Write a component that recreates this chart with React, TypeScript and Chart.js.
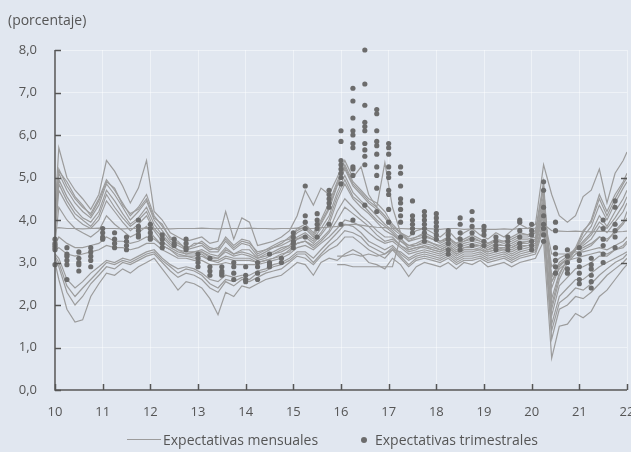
import React, { useEffect, useRef } from "react";
import { Chart, registerables } from "chart.js";

Chart.register(...registerables);

const FONT = "'Open Sans', 'Noto Sans', sans-serif";
const BG = "#e1e7f0";
const LINE_COLOR = "#9c9c9c";
const DOT_COLOR = "#6c6c6c";
const AXIS_COLOR = "#555555";
const TEXT_COLOR = "#555555";

// Monthly-survey time grid (years, 10 = 2010)
const months = [
  10.0, 10.08, 10.25, 10.42, 10.58, 10.75, 10.92, 11.08, 11.25, 11.42,
  11.58, 11.75, 11.92, 12.08, 12.25, 12.42, 12.58, 12.75, 12.92, 13.08,
  13.25, 13.42, 13.58, 13.75, 13.92, 14.08, 14.25, 14.42, 14.58, 14.75,
  14.92, 15.08, 15.25, 15.42, 15.58, 15.75, 15.92, 16.08, 16.25, 16.42,
  16.58, 16.75, 16.92, 17.08, 17.25, 17.42, 17.58, 17.75, 17.92, 18.08,
  18.25, 18.42, 18.58, 18.75, 18.92, 19.08, 19.25, 19.42, 19.58, 19.75,
  19.92, 20.08, 20.25, 20.42, 20.58, 20.75, 20.92, 21.08, 21.25, 21.42,
  21.58, 21.75, 21.92, 22.0,
];

const yearTicks = [10, 11, 12, 13, 14, 15, 16, 17, 18, 19, 20, 21, 22];
const percentTicks = [0, 1, 2, 3, 4, 5, 6, 7, 8];
const rightTickValues = [3, 4, 5];

// Monthly expectations (one array per line)
const monthlyA = [
  4.2, 5.7, 5.0, 4.7, 4.5, 4.25, 4.6, 5.4, 5.15, 4.8,
  4.4, 4.75, 5.4, 4.2, 4.0, 3.7, 3.6, 3.5, 3.55, 3.6,
  3.45, 3.5, 4.2, 3.55, 4.05, 3.95, 3.4, 3.45, 3.5, 3.6,
  3.75, 4.1, 4.7, 4.35, 4.75, 4.6, 5.0, 5.4, 5.0, 5.25,
  4.6, 4.3, 5.35, 4.3, 3.7, 3.6, 3.75, 3.8, 3.7, 3.6,
  3.75, 3.55, 3.7, 3.8, 3.65, 3.55, 3.7, 3.6, 3.75, 3.9,
  3.8, 3.9, 5.3, 4.6, 4.1, 3.95, 4.1, 4.55, 4.7, 5.2,
  4.4, 5.1, 5.4, 5.6,
];
const monthlyB = [
  4.1, 5.2, 4.8, 4.5, 4.3, 4.15, 4.5, 4.95, 4.7, 4.4,
  4.1, 4.3, 4.6, 4.1, 3.85, 3.6, 3.45, 3.35, 3.4, 3.5,
  3.35, 3.3, 3.6, 3.4, 3.55, 3.5, 3.2, 3.3, 3.4, 3.5,
  3.55, 3.8, 3.9, 3.7, 4.0, 4.4, 4.9, 5.3, 4.9, 4.7,
  4.5, 4.4, 4.2, 3.9, 3.7, 3.55, 3.6, 3.7, 3.6, 3.5,
  3.6, 3.45, 3.55, 3.65, 3.55, 3.45, 3.55, 3.5, 3.6, 3.7,
  3.65, 3.75, 4.9, 1.9, 2.6, 3.0, 3.3, 3.7, 4.0, 4.6,
  4.2, 4.6, 4.9, 5.1,
];
const monthlyC = [
  4.0, 5.1, 4.7, 4.4, 4.2, 4.05, 4.35, 4.85, 4.6, 4.3,
  4.0, 4.2, 4.45, 4.0, 3.75, 3.5, 3.4, 3.3, 3.35, 3.4,
  3.25, 3.25, 3.5, 3.3, 3.45, 3.4, 3.15, 3.25, 3.35, 3.4,
  3.5, 3.7, 3.8, 3.6, 3.9, 4.25, 4.8, 5.2, 4.8, 4.6,
  4.4, 4.25, 4.05, 3.8, 3.65, 3.5, 3.55, 3.6, 3.55, 3.45,
  3.55, 3.4, 3.5, 3.55, 3.5, 3.4, 3.5, 3.45, 3.5, 3.6,
  3.6, 3.7, 4.75, 2.15, 2.75, 3.05, 3.3, 3.6, 3.85, 4.35,
  4.0, 4.4, 4.75, 4.9,
];
const monthlyD = [
  3.85, 4.95, 4.55, 4.25, 4.05, 3.95, 4.2, 4.7, 4.45, 4.15,
  3.9, 4.05, 4.3, 3.9, 3.65, 3.45, 3.3, 3.25, 3.25, 3.3,
  3.2, 3.15, 3.35, 3.2, 3.3, 3.3, 3.1, 3.2, 3.25, 3.35,
  3.4, 3.6, 3.7, 3.55, 3.8, 4.1, 4.65, 5.05, 4.65, 4.45,
  4.3, 4.1, 3.9, 3.75, 3.55, 3.4, 3.45, 3.55, 3.45, 3.4,
  3.5, 3.35, 3.45, 3.5, 3.45, 3.35, 3.45, 3.4, 3.45, 3.55,
  3.55, 3.6, 4.6, 2.4, 2.9, 3.1, 3.3, 3.5, 3.7, 4.1,
  3.85, 4.2, 4.5, 4.7,
];
const monthlyE = [
  3.65, 4.7, 4.35, 4.05, 3.9, 3.8, 4.0, 4.45, 4.2, 3.95,
  3.75, 3.9, 4.1, 3.75, 3.5, 3.35, 3.25, 3.2, 3.2, 3.25,
  3.1, 3.1, 3.25, 3.15, 3.2, 3.15, 3.05, 3.1, 3.2, 3.25,
  3.35, 3.55, 3.6, 3.45, 3.65, 3.9, 4.45, 4.85, 4.5, 4.3,
  4.15, 3.95, 3.75, 3.65, 3.5, 3.35, 3.4, 3.45, 3.4, 3.3,
  3.4, 3.25, 3.35, 3.4, 3.4, 3.3, 3.35, 3.35, 3.35, 3.45,
  3.45, 3.55, 4.4, 2.65, 3.0, 3.15, 3.3, 3.4, 3.55, 3.85,
  3.7, 3.95, 4.2, 4.4,
];
const monthlyF = [
  3.45, 4.3, 4.0, 3.8, 3.7, 3.6, 3.75, 4.1, 3.9, 3.75,
  3.6, 3.7, 3.85, 3.6, 3.4, 3.3, 3.15, 3.15, 3.1, 3.15,
  3.05, 3.0, 3.1, 3.05, 3.05, 3.05, 3.0, 3.05, 3.1, 3.2,
  3.25, 3.45, 3.5, 3.4, 3.55, 3.75, 4.2, 4.5, 4.3, 4.1,
  3.95, 3.75, 3.6, 3.6, 3.4, 3.25, 3.3, 3.4, 3.3, 3.25,
  3.35, 3.2, 3.3, 3.3, 3.35, 3.25, 3.3, 3.35, 3.3, 3.4,
  3.4, 3.45, 4.25, 2.9, 3.1, 3.2, 3.3, 3.35, 3.45, 3.6,
  3.55, 3.7, 3.9, 4.05,
];
const monthlyG = [
  3.3, 3.35, 3.2, 3.15, 3.2, 3.25, 3.3, 3.4, 3.35, 3.35,
  3.3, 3.35, 3.45, 3.45, 3.3, 3.2, 3.1, 3.1, 3.05, 3.05,
  2.95, 2.95, 3.0, 2.95, 2.95, 2.95, 2.95, 3.0, 3.05, 3.1,
  3.2, 3.35, 3.4, 3.3, 3.45, 3.6, 3.8, 4.0, 3.95, 3.85,
  3.7, 3.55, 3.45, 3.5, 3.35, 3.2, 3.25, 3.3, 3.25, 3.2,
  3.3, 3.15, 3.25, 3.25, 3.3, 3.2, 3.25, 3.3, 3.2, 3.3,
  3.35, 3.4, 4.1, 3.2, 3.2, 3.2, 3.25, 3.25, 3.3, 3.35,
  3.3, 3.4, 3.5, 3.6,
];
const monthlyH = [
  3.8, 3.82, 3.8, 3.8, 3.79, 3.8, 3.81, 3.8, 3.8, 3.79,
  3.8, 3.8, 3.81, 3.8, 3.8, 3.79, 3.8, 3.8, 3.8, 3.81,
  3.8, 3.79, 3.8, 3.8, 3.8, 3.81, 3.8, 3.8, 3.79, 3.8,
  3.8, 3.81, 3.8, 3.8, 3.82, 3.83, 3.85, 3.88, 3.9, 3.88,
  3.85, 3.83, 3.82, 3.8, 3.8, 3.79, 3.8, 3.8, 3.79, 3.78,
  3.8, 3.8, 3.78, 3.79, 3.8, 3.78, 3.78, 3.79, 3.78, 3.8,
  3.8, 3.81, 3.9, 3.75, 3.74, 3.73, 3.74, 3.73, 3.72, 3.74,
  3.73, 3.72, 3.73, 3.74,
];
const monthlyI = [
  3.0, 2.6, 1.9, 1.6, 1.65, 2.2, 2.5, 2.75, 2.7, 2.85,
  2.75, 2.9, 3.0, 3.1, 2.85, 2.6, 2.35, 2.55, 2.5, 2.4,
  2.15, 1.77, 2.3, 2.2, 2.45, 2.4, 2.5, 2.6, 2.65, 2.7,
  2.85, 3.0, 2.95, 2.7, 3.0, 3.1, 3.05, 3.2, 3.3, 3.2,
  3.0, 2.95, 2.85, 3.1, 2.95, 2.67, 2.9, 3.0, 2.95, 2.9,
  3.0, 2.85, 3.0, 2.95, 3.05, 2.9, 2.95, 3.0, 2.9, 3.0,
  3.05, 3.1, 3.5, 0.75, 1.5, 1.55, 1.8, 1.7, 1.85, 2.2,
  2.35, 2.6, 2.85, 2.95,
];
const monthlyJ = [
  3.1, 2.9, 2.3, 2.0, 2.2, 2.5, 2.7, 2.9, 2.85, 3.0,
  2.95, 3.05, 3.15, 3.2, 3.0, 2.8, 2.65, 2.75, 2.7, 2.6,
  2.4, 2.3, 2.55, 2.45, 2.6, 2.55, 2.65, 2.75, 2.8, 2.85,
  3.0, 3.15, 3.1, 2.95, 3.15, 3.3, 3.4, 3.6, 3.6, 3.45,
  3.3, 3.2, 3.1, 3.3, 3.1, 2.9, 3.05, 3.1, 3.05, 3.0,
  3.1, 2.95, 3.05, 3.05, 3.1, 3.0, 3.05, 3.1, 3.0, 3.1,
  3.15, 3.2, 3.8, 1.2, 1.9, 2.0, 2.2, 2.15, 2.3, 2.5,
  2.7, 2.85, 3.0, 3.1,
];
const monthlyK = [
  3.2, 3.1, 2.6, 2.4, 2.55, 2.75, 2.9, 3.05, 3.0, 3.1,
  3.05, 3.15, 3.25, 3.3, 3.1, 2.95, 2.85, 2.9, 2.85, 2.75,
  2.6, 2.55, 2.7, 2.65, 2.7, 2.7, 2.8, 2.85, 2.95, 3.0,
  3.1, 3.25, 3.25, 3.1, 3.3, 3.5, 3.7, 3.9, 3.85, 3.7,
  3.5, 3.4, 3.3, 3.4, 3.2, 3.05, 3.15, 3.2, 3.15, 3.1,
  3.2, 3.05, 3.15, 3.15, 3.2, 3.1, 3.15, 3.2, 3.1, 3.2,
  3.25, 3.3, 4.0, 1.55, 2.2, 2.4, 2.6, 2.6, 2.75, 2.9,
  3.0, 3.1, 3.2, 3.25,
];
const monthlyN = [
  4.05, 5.15, 4.9, 4.55, 4.35, 4.1, 4.45, 4.9, 4.75, 4.35,
  4.15, 4.25, 4.5, 4.05, 3.9, 3.55, 3.5, 3.3, 3.45, 3.45,
  3.3, 3.35, 3.55, 3.35, 3.5, 3.45, 3.25, 3.3, 3.35, 3.45,
  3.6, 3.75, 3.85, 3.65, 3.95, 4.3, 4.85, 5.25, 4.85, 4.65,
  4.45, 4.3, 4.1, 3.85, 3.7, 3.5, 3.6, 3.65, 3.55, 3.5,
  3.55, 3.45, 3.5, 3.6, 3.5, 3.45, 3.5, 3.5, 3.55, 3.65,
  3.65, 3.7, 4.8, 2.0, 2.7, 3.1, 3.35, 3.75, 3.95, 4.5,
  4.1, 4.5, 4.85, 5.0,
];
const monthlyO = [
  3.75, 4.85, 4.45, 4.15, 4.0, 3.85, 4.1, 4.6, 4.3, 4.05,
  3.85, 4.0, 4.2, 3.8, 3.6, 3.4, 3.3, 3.2, 3.25, 3.25,
  3.15, 3.1, 3.3, 3.2, 3.25, 3.2, 3.1, 3.15, 3.2, 3.3,
  3.4, 3.55, 3.65, 3.5, 3.7, 4.0, 4.55, 4.95, 4.55, 4.4,
  4.2, 4.0, 3.85, 3.7, 3.5, 3.4, 3.4, 3.5, 3.45, 3.35,
  3.45, 3.3, 3.4, 3.45, 3.4, 3.3, 3.4, 3.4, 3.4, 3.5,
  3.5, 3.55, 4.5, 2.55, 2.95, 3.1, 3.3, 3.45, 3.65, 3.95,
  3.8, 4.05, 4.35, 4.55,
];
const monthlyP = [
  3.15, 3.0, 2.45, 2.2, 2.4, 2.6, 2.8, 3.0, 2.95, 3.05,
  3.0, 3.1, 3.2, 3.25, 3.05, 2.9, 2.75, 2.85, 2.8, 2.7,
  2.5, 2.4, 2.6, 2.55, 2.65, 2.6, 2.75, 2.8, 2.9, 2.95,
  3.05, 3.2, 3.2, 3.0, 3.2, 3.4, 3.55, 3.75, 3.7, 3.6,
  3.4, 3.3, 3.2, 3.35, 3.15, 2.95, 3.1, 3.15, 3.1, 3.05,
  3.15, 3.0, 3.1, 3.1, 3.15, 3.05, 3.1, 3.15, 3.05, 3.15,
  3.2, 3.25, 3.9, 1.4, 2.05, 2.2, 2.4, 2.35, 2.5, 2.7,
  2.85, 3.0, 3.1, 3.2,
];
const monthlyQ = [
  3.4, 3.6, 3.45, 3.35, 3.35, 3.4, 3.45, 3.6, 3.5, 3.5,
  3.45, 3.5, 3.6, 3.55, 3.4, 3.3, 3.2, 3.15, 3.15, 3.2,
  3.05, 3.05, 3.15, 3.1, 3.1, 3.1, 3.0, 3.05, 3.1, 3.15,
  3.3, 3.45, 3.5, 3.35, 3.5, 3.7, 4.0, 4.3, 4.15, 4.0,
  3.85, 3.65, 3.5, 3.55, 3.4, 3.3, 3.35, 3.35, 3.3, 3.25,
  3.35, 3.2, 3.3, 3.3, 3.3, 3.25, 3.3, 3.3, 3.25, 3.35,
  3.4, 3.45, 4.2, 1.75, 2.45, 2.65, 2.85, 2.9, 3.0, 3.15,
  3.15, 3.3, 3.4, 3.5,
];

// Lines that start late (from months[36] = 15.92)
const lateStartIndex = 36;
const monthlyL = [
  3.15, 3.15, 3.2, 3.15,
  3.2, 3.15, 3.2, 3.3, 3.25, 3.1, 3.2, 3.25, 3.2, 3.15,
  3.25, 3.1, 3.2, 3.2, 3.25, 3.15, 3.2, 3.25, 3.15, 3.25,
  3.3, 3.35, 3.9, 2.7, 2.95, 3.05, 3.1, 3.15, 3.2, 3.25,
  3.2, 3.3, 3.35, 3.45,
];
const monthlyM = [
  2.95, 2.95, 2.9, 2.9,
  2.9, 2.9, 2.9, 2.9, 3.6, 3.3, 3.35, 3.4, 3.35, 3.3,
  3.4, 3.25, 3.35, 3.35, 3.4, 3.3, 3.4, 3.4, 3.35, 3.45,
  3.5, 3.5, 4.3, 2.55, 2.85, 3.0, 3.2, 3.3, 3.4, 3.6,
  3.5, 3.75, 3.95, 4.2,
];

const fullLines = [
  monthlyA, monthlyB, monthlyN, monthlyC, monthlyD, monthlyO, monthlyE, monthlyF,
  monthlyQ, monthlyG, monthlyH, monthlyI, monthlyJ, monthlyP, monthlyK,
];
const lateLines = [monthlyL, monthlyM];

// Quarterly expectations (dots)
const quarters = [
  10.0, 10.25, 10.5, 10.75, 11.0, 11.25, 11.5, 11.75, 12.0, 12.25, 12.5, 12.75,
  13.0, 13.25, 13.5, 13.75, 14.0, 14.25, 14.5, 14.75, 15.0, 15.25, 15.5, 15.75,
  16.0, 16.25, 16.5, 16.75, 17.0, 17.25, 17.5, 17.75, 18.0, 18.25, 18.5, 18.75,
  19.0, 19.25, 19.5, 19.75, 20.0, 20.25, 20.5, 20.75, 21.0, 21.25, 21.5, 21.75,
];
const quarterlyValues = [
  [3.55, 3.45, 3.4, 3.35, 3.3, 2.95],
  [3.35, 3.2, 3.15, 3.05, 2.95, 2.6],
  [3.25, 3.1, 3.0, 2.95, 2.8],
  [3.35, 3.25, 3.15, 3.05, 2.9],
  [3.8, 3.7, 3.6, 3.55],
  [3.7, 3.55, 3.45, 3.35],
  [3.6, 3.5, 3.4, 3.3],
  [4.0, 3.85, 3.75, 3.65, 3.6],
  [3.9, 3.8, 3.7, 3.6, 3.55],
  [3.65, 3.55, 3.45, 3.35],
  [3.55, 3.45, 3.4],
  [3.55, 3.45, 3.35, 3.3],
  [3.2, 3.1, 3.0, 2.9],
  [3.1, 2.9, 2.8, 2.7],
  [2.9, 2.8, 2.75, 2.7],
  [3.0, 2.9, 2.75, 2.6],
  [2.9, 2.7, 2.6, 2.55],
  [3.0, 2.9, 2.75, 2.6],
  [3.2, 3.0, 2.95, 2.9],
  [3.1, 3.0],
  [3.7, 3.6, 3.5, 3.45, 3.35],
  [4.8, 4.1, 3.95, 3.8, 3.6],
  [4.15, 4.0, 3.9, 3.8, 3.6],
  [4.7, 4.6, 4.5, 4.4, 4.3, 3.9],
  [6.1, 5.85, 5.4, 5.3, 5.2, 5.1, 5.0, 4.85, 3.9],
  [7.1, 6.8, 6.4, 6.1, 6.0, 5.8, 5.7, 5.25, 5.2, 5.05, 4.0],
  [8.0, 7.2, 6.7, 6.3, 6.2, 6.1, 5.8, 5.65, 5.5, 5.3, 4.35],
  [6.6, 6.5, 6.1, 5.85, 5.75, 5.55, 5.25, 5.05, 4.75, 4.2],
  [5.8, 5.7, 5.55, 5.25, 5.1, 5.0, 4.7, 4.6, 4.25, 3.95],
  [5.25, 5.1, 4.8, 4.5, 4.4, 4.25, 4.1, 3.95, 3.6],
  [4.45, 4.1, 4.0, 3.9, 3.8, 3.7],
  [4.2, 4.1, 4.0, 3.9, 3.8, 3.7, 3.6, 3.5],
  [4.15, 4.05, 3.95, 3.85, 3.75, 3.65, 3.55],
  [3.75, 3.65, 3.55, 3.45, 3.3, 3.2],
  [4.05, 3.9, 3.7, 3.55, 3.4, 3.3],
  [4.2, 4.0, 3.85, 3.7, 3.55, 3.4],
  [3.85, 3.75, 3.65, 3.5, 3.4],
  [3.6, 3.5, 3.4, 3.3],
  [3.6, 3.5, 3.4, 3.3],
  [4.0, 3.95, 3.75, 3.6, 3.45, 3.35],
  [3.9, 3.75, 3.65, 3.5, 3.4, 3.3],
  [4.9, 4.7, 4.3, 4.1, 3.9, 3.8, 3.65, 3.5],
  [3.95, 3.75, 3.35, 3.2, 3.05, 2.9, 2.75],
  [3.3, 3.15, 3.0, 2.85, 2.75],
  [3.35, 3.2, 3.05, 2.9, 2.75, 2.6, 2.5],
  [3.1, 2.95, 2.85, 2.7, 2.55, 2.4],
  [4.0, 3.8, 3.55, 3.4, 3.2, 3.0],
  [4.45, 4.3, 3.9, 3.75, 3.6, 3.35],
];

const axesPlugin = {
  id: "axesAndTicks",
  afterDatasetsDraw(chart: any) {
    const { ctx, chartArea, scales } = chart;
    const x = scales.x;
    const y = scales.y;
    ctx.save();
    ctx.strokeStyle = AXIS_COLOR;
    ctx.lineWidth = 1.5;
    ctx.beginPath();
    ctx.moveTo(chartArea.left, y.getPixelForValue(percentTicks[percentTicks.length - 1]));
    ctx.lineTo(chartArea.left, chartArea.bottom);
    ctx.lineTo(chartArea.right, chartArea.bottom);
    ctx.stroke();
    ctx.beginPath();
    percentTicks.forEach((v) => {
      const py = Math.round(y.getPixelForValue(v)) + 0.5;
      ctx.moveTo(chartArea.left, py);
      ctx.lineTo(chartArea.left + 6, py);
    });
    yearTicks.forEach((t) => {
      const px = Math.round(x.getPixelForValue(t)) + 0.5;
      ctx.moveTo(px, chartArea.bottom);
      ctx.lineTo(px, chartArea.bottom - 6);
    });
    rightTickValues.forEach((v) => {
      const py = Math.round(y.getPixelForValue(v)) + 0.5;
      ctx.moveTo(chartArea.right - 6, py);
      ctx.lineTo(chartArea.right, py);
    });
    ctx.stroke();
    ctx.restore();
  },
};

export default function App() {
  const canvasRef = useRef<HTMLCanvasElement>(null);

  useEffect(() => {
    const canvas = canvasRef.current;
    if (!canvas) return;

    const dotPoints = quarters.flatMap((q, i) =>
      quarterlyValues[i].map((v) => ({ x: q, y: v }))
    );

    const datasets: any[] = [
      {
        label: "Expectativas trimestrales",
        data: dotPoints,
        showLine: false,
        pointRadius: 2.6,
        pointBackgroundColor: DOT_COLOR,
        pointBorderWidth: 0,
        clip: false,
        order: 0,
      },
    ];
    fullLines.forEach((s, k) => {
      datasets.push({
        label: k === 0 ? "Expectativas mensuales" : "m" + k,
        data: s.map((v, i) => ({ x: months[i], y: v })),
        showLine: true,
        borderColor: LINE_COLOR,
        borderWidth: 1.2,
        pointRadius: 0,
        tension: 0,
        order: 1,
      });
    });
    lateLines.forEach((s, k) => {
      datasets.push({
        label: "late" + k,
        data: s.map((v, i) => ({ x: months[i + lateStartIndex], y: v })),
        showLine: true,
        borderColor: LINE_COLOR,
        borderWidth: 1.2,
        pointRadius: 0,
        tension: 0,
        order: 1,
      });
    });

    const gridColor = "rgba(255,255,255,0.45)";

    const chart = new Chart(canvas, {
      type: "scatter",
      data: { datasets },
      plugins: [axesPlugin],
      options: {
        animation: false,
        responsive: false,
        maintainAspectRatio: false,
        devicePixelRatio: 1,
        events: [],
        layout: { padding: { top: 50, right: 4, bottom: 0, left: 0 } },
        plugins: {
          legend: { display: false },
          tooltip: { enabled: false },
          title: { display: false },
        },
        scales: {
          x: {
            type: "linear",
            min: 10,
            max: 22,
            ticks: {
              stepSize: 1,
              color: TEXT_COLOR,
              font: { family: FONT, size: 13 },
              padding: 14,
              callback: (v: any) => String(v),
            },
            grid: { color: gridColor, lineWidth: 1, drawTicks: false },
            border: { display: false },
            afterFit: (s: any) => {
              s.height = 62;
              s.paddingLeft = 0;
              s.paddingRight = 0;
            },
          },
          y: {
            type: "linear",
            min: 0,
            max: 8,
            ticks: {
              stepSize: 1,
              color: TEXT_COLOR,
              font: { family: FONT, size: 13 },
              padding: 18,
              callback: (v: any) => Number(v).toFixed(1).replace(".", ","),
            },
            grid: { color: gridColor, lineWidth: 1, drawTicks: false },
            border: { display: false },
            afterFit: (s: any) => {
              s.width = 55;
              s.paddingTop = 0;
              s.paddingBottom = 0;
            },
          },
        },
      } as any,
    });

    return () => chart.destroy();
  }, []);

  const textStyle: React.CSSProperties = {
    position: "absolute",
    fontFamily: FONT,
    fontSize: 14,
    lineHeight: "18px",
    color: TEXT_COLOR,
    whiteSpace: "nowrap",
  };

  return (
    <div
      style={{
        position: "fixed",
        left: 0,
        top: 0,
        width: 631,
        height: 452,
        background: BG,
        overflow: "hidden",
      }}
    >
      <canvas
        ref={canvasRef}
        width={631}
        height={452}
        style={{ position: "absolute", left: 0, top: 0, width: 631, height: 452 }}
      />
      <span style={{ ...textStyle, left: 8, top: 11 }}>(porcentaje)</span>
      <div
        style={{
          position: "absolute",
          left: 127,
          top: 439,
          width: 34,
          height: 0,
          borderTop: `1.5px solid ${LINE_COLOR}`,
        }}
      />
      <span style={{ ...textStyle, left: 163, top: 431 }}>Expectativas mensuales</span>
      <div
        style={{
          position: "absolute",
          left: 361,
          top: 437,
          width: 6,
          height: 6,
          borderRadius: 3,
          background: DOT_COLOR,
        }}
      />
      <span style={{ ...textStyle, left: 375, top: 431 }}>Expectativas trimestrales</span>
    </div>
  );
}
